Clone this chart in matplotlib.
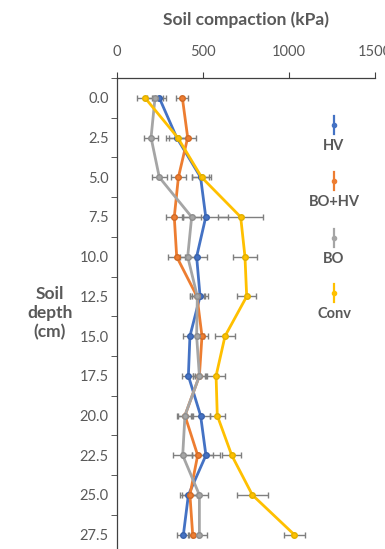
import matplotlib
matplotlib.use("Agg")
import matplotlib.pyplot as plt
from matplotlib.lines import Line2D
import numpy as np

plt.rcParams["font.family"] = ["Lato", "DejaVu Sans"]

depth = [0.0, 2.5, 5.0, 7.5, 10.0, 12.5, 15.0, 17.5, 20.0, 22.5, 25.0, 27.5]

hv = [246, 347, 486, 516, 463, 483, 424, 415, 486, 517, 415, 386]
bo_hv = [380, 411, 357, 333, 347, 465, 494, 479, 395, 469, 424, 440]
bo = [221, 198, 246, 434, 411, 467, 463, 479, 395, 382, 479, 479]
conv = [163, 353, 492, 719, 744, 754, 628, 576, 583, 667, 787, 1031]

hv_err = [40, 60, 50, 130, 60, 45, 40, 40, 55, 80, 50, 35]
bo_hv_err = [35, 50, 45, 50, 50, 40, 35, 35, 45, 90, 45, 30]
bo_err = [45, 40, 45, 55, 45, 45, 40, 40, 40, 55, 50, 45]
conv_err = [45, 50, 55, 130, 70, 55, 60, 50, 45, 55, 90, 60]

names = ["HV", "BO+HV", "BO", "Conv"]
colors = ["#4472C4", "#ED7D31", "#A5A5A5", "#FFC000"]
edges = ["#3A62AA", "#D06A26", "#8E8E8E", "#E0B000"]
series = [hv, bo_hv, bo, conv]
errs = [hv_err, bo_hv_err, bo_err, conv_err]

TXT = "#595959"

fig = plt.figure(figsize=(3.85, 5.49), dpi=100)
ax = fig.add_axes([117 / 385, 0.0, 258 / 385, 1 - 78 / 549])

for vals, err, c, ec in zip(series, errs, colors, edges):
    ax.errorbar(vals, depth, xerr=err, fmt="none", ecolor="#7F7F7F",
                elinewidth=1.0, capsize=2, capthick=1.0, zorder=2)
    ax.plot(vals, depth, "-", color=c, linewidth=2.0, marker="o",
            markersize=4, markerfacecolor=c, markeredgecolor=ec, zorder=3)

ax.set_xlim(0, 1500)
ax.set_ylim(28.4, -1.25)
ax.xaxis.tick_top()
ax.set_xticks([0, 500, 1000, 1500])
ax.tick_params(axis="x", which="major", direction="out", length=4,
               colors="#404040", labelcolor=TXT, labelsize=10.5, pad=10)

ax.set_yticks(depth)
ax.set_yticklabels([f"{d:.1f}" for d in depth])
ax.set_yticks(np.arange(-1.25, 28.0, 2.5), minor=True)
ax.tick_params(axis="y", which="major", length=0, labelcolor=TXT,
               labelsize=10.5, pad=6)
ax.tick_params(axis="y", which="minor", length=4, color="#404040")

for s in ["right", "bottom"]:
    ax.spines[s].set_visible(False)
for s in ["top", "left"]:
    ax.spines[s].set_color("#404040")
    ax.spines[s].set_linewidth(0.9)

fig.text(246 / 385, 1 - 20 / 549, "Soil compaction (kPa)", ha="center",
         va="center", fontsize=12.5, fontweight="bold", color=TXT)
fig.text(50 / 385, 1 - 313 / 549, "Soil\ndepth\n(cm)", ha="center",
         va="center", fontsize=12.5, fontweight="bold", color=TXT,
         linespacing=1.25)

# legend: small vertical errorbar glyph with label below
leg_y = [125, 181, 238, 293]
for name, c, y in zip(names, colors, leg_y):
    x = 334 / 385
    fig.add_artist(Line2D([x, x], [1 - (y - 9) / 549, 1 - (y + 9) / 549],
                          color=c, linewidth=1.6, transform=fig.transFigure))
    fig.add_artist(Line2D([x], [1 - y / 549], marker="o", markersize=3,
                          color=c, transform=fig.transFigure))
    fig.text(x, 1 - (y + 21) / 549, name, ha="center", va="center",
             fontsize=10.5, fontweight="bold", color=TXT)

fig.savefig("out.png", dpi=100)
